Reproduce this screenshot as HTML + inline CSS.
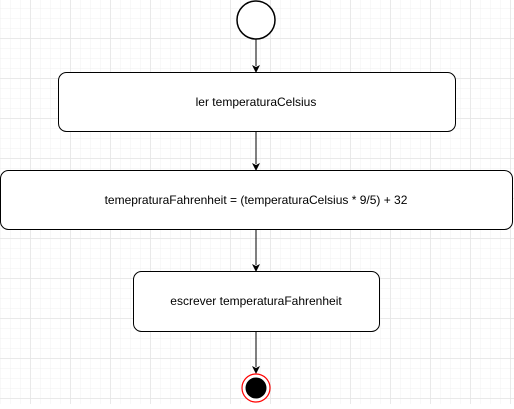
<!DOCTYPE html>
<html><head><style>
body{margin:0;width:514px;height:404px;overflow:hidden;background:#fff}
</style></head><body>
<svg width="514" height="404" xmlns="http://www.w3.org/2000/svg" font-family="Liberation Sans, sans-serif" font-size="12">
<defs>
<pattern id="g" width="10" height="10" patternUnits="userSpaceOnUse" x="0" y="8">
<path d="M0 0H10M0 0V10" stroke="#f0f0f0" stroke-width="1" fill="none"/>
</pattern>
<pattern id="G" width="40" height="40" patternUnits="userSpaceOnUse" x="30.5" y="38.5">
<path d="M0 0H40M0 0V40" stroke="#e2e2e2" stroke-width="1" fill="none"/>
</pattern>
</defs>
<rect width="514" height="404" fill="url(#g)"/>
<rect width="514" height="404" fill="url(#G)"/>
<circle cx="256" cy="20" r="19" fill="#fff" stroke="#000" stroke-width="1.5"/>
<g stroke="#000" stroke-width="1">
<line x1="256" y1="39" x2="256" y2="66"/>
<line x1="256" y1="132" x2="256" y2="164"/>
<line x1="256" y1="230" x2="256" y2="265"/>
<line x1="256" y1="331" x2="256" y2="367"/>
</g>
<g fill="#000">
<path d="M252 65L256 73L260 65L256 67Z"/>
<path d="M252 163L256 171L260 163L256 165Z"/>
<path d="M252 264L256 272L260 264L256 266Z"/>
<path d="M252 366L256 374L260 366L256 368Z"/>
</g>
<g fill="#fff" stroke="#000" stroke-width="1">
<rect x="58.5" y="72.5" width="397" height="59" rx="8"/>
<rect x="0.5" y="170.5" width="512" height="59" rx="8"/>
<rect x="133.5" y="271.5" width="246" height="60" rx="8"/>
</g>
<g text-anchor="middle" fill="#000">
<text x="256" y="106">ler temperaturaCelsius</text>
<text x="256" y="204">temepraturaFahrenheit = (temperaturaCelsius * 9/5) + 32</text>
<text x="256" y="305">escrever temperaturaFahrenheit</text>
</g>
<circle cx="256" cy="388" r="14" fill="#fff" stroke="#f00" stroke-width="1.2"/>
<circle cx="256" cy="388" r="10.5" fill="#000"/>
</svg>
</body></html>
